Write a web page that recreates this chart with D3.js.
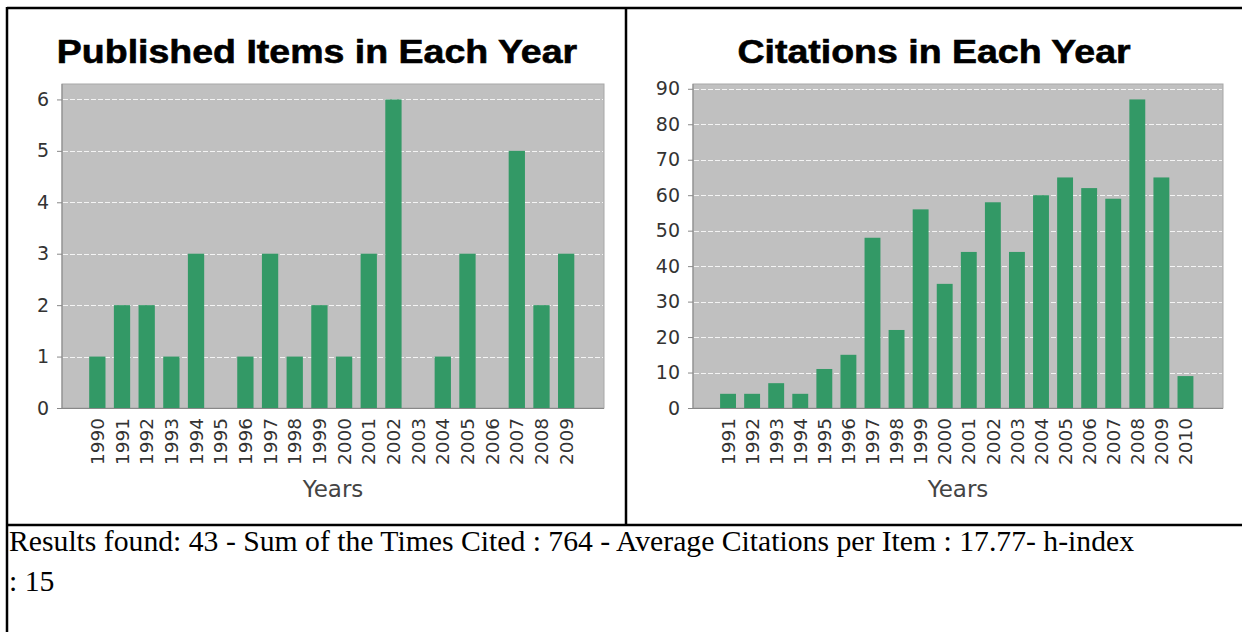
<!DOCTYPE html>
<html>
<head>
<meta charset="utf-8">
<script src="https://cdn.jsdelivr.net/npm/d3@7"></script>
<style>
  body { margin: 0; background: #fff; overflow: hidden; }
  svg { display: block; }
</style>
</head>
<body>
<script>
// published items per year (left chart)
var itemYears = ["1990","1991","1992","1993","1994","1995","1996","1997","1998","1999",
                 "2000","2001","2002","2003","2004","2005","2006","2007","2008","2009"];
var itemCounts = [1,2,2,1,3,0,1,3,1,2,1,3,6,0,1,3,0,5,2,3];
var itemTicks = [0,1,2,3,4,5,6];

// citations per year (right chart)
var citeYears = ["1991","1992","1993","1994","1995","1996","1997","1998","1999","2000",
                 "2001","2002","2003","2004","2005","2006","2007","2008","2009","2010"];
var citeCounts = [4,4,7,4,11,15,48,22,56,35,44,58,44,60,65,62,59,87,65,9];
var citeTicks = [0,10,20,30,40,50,60,70,80,90];

var summaryLines = ["Results found: 43 - Sum of the Times Cited : 764 - Average Citations per Item : 17.77- h-index",
                    ": 15"];

var width = 1242, height = 632;

var svg = d3.select("body").append("svg")
    .attr("width", width)
    .attr("height", height);

// table frame
var frame = svg.append("g")
    .attr("stroke", "#000")
    .attr("stroke-width", 2.5);
frame.append("line").attr("x1", 7).attr("x2", width + 5).attr("y1", 8).attr("y2", 8);
frame.append("line").attr("x1", 7).attr("x2", 7).attr("y1", 7).attr("y2", height + 5);
frame.append("line").attr("x1", 626).attr("x2", 626).attr("y1", 7).attr("y2", 525);
frame.append("line").attr("x1", 7).attr("x2", width + 5).attr("y1", 525).attr("y2", 525);

function drawChart(o) {
  var g = svg.append("g");

  // chart title
  g.append("text")
      .attr("transform", "translate(" + o.titleX + ",63) scale(1.12,1)")
      .attr("text-anchor", "middle")
      .style("font-family", "'Liberation Sans', Arial, sans-serif")
      .style("font-weight", "bold")
      .style("font-size", "33.5px")
      .attr("fill", "#000")
      .attr("stroke", "#000")
      .attr("stroke-width", 0.6)
      .text(o.title);

  var x = d3.scaleBand()
      .domain(o.years)
      .range([o.left + 23, o.right - 25.5])
      .paddingInner(0.34)
      .paddingOuter(0.17);

  var y = d3.scaleLinear()
      .domain([0, d3.max(o.values) * 1.05])
      .range([o.bottom, o.top]);

  // plot background
  g.append("rect")
      .attr("x", o.left)
      .attr("y", o.top)
      .attr("width", o.right - o.left)
      .attr("height", o.bottom - o.top)
      .attr("fill", "#c0c0c0")
      .attr("stroke", "#a8a8a8")
      .attr("stroke-width", 1);

  // gridlines
  g.selectAll(".grid")
      .data(o.ticks.filter(function(d){ return d > 0; }))
      .enter()
      .append("line")
      .attr("x1", o.left + 1)
      .attr("x2", o.right - 1)
      .attr("y1", function(d){ return Math.round(y(d)) + 0.5; })
      .attr("y2", function(d){ return Math.round(y(d)) + 0.5; })
      .attr("stroke", "#f4f4f4")
      .attr("stroke-width", 1)
      .attr("stroke-dasharray", "5,2");

  // bars
  g.selectAll(".bar")
      .data(o.values)
      .enter()
      .append("rect")
      .attr("x", function(d, i){ return x(o.years[i]); })
      .attr("width", x.bandwidth())
      .attr("y", function(d){ return y(d); })
      .attr("height", function(d){ return o.bottom - y(d); })
      .attr("fill", "#339966");

  // y axis
  var yAxis = d3.axisLeft(y)
      .tickValues(o.ticks)
      .tickSize(5)
      .tickPadding(8)
      .tickFormat(d3.format("d"));
  var ya = g.append("g")
      .attr("transform", "translate(" + o.left + ",0)")
      .call(yAxis);
  ya.select(".domain").attr("stroke", "#888").attr("d", "M0," + o.top + "V" + o.bottom);
  ya.selectAll(".tick line").attr("stroke", "#888");
  ya.selectAll(".tick text")
      .style("font-family", "'DejaVu Sans', Verdana, sans-serif")
      .style("font-size", "19px")
      .attr("fill", "#333");

  // x axis
  var xAxis = d3.axisBottom(x).tickSize(0).tickPadding(0);
  var xa = g.append("g")
      .attr("transform", "translate(0," + o.bottom + ")")
      .call(xAxis);
  xa.select(".domain").attr("stroke", "#888").attr("d", "M" + (o.left - 5) + ",0.5H" + o.right);
  xa.selectAll(".tick text")
      .style("font-family", "'DejaVu Sans', Verdana, sans-serif")
      .style("font-size", "18.5px")
      .attr("fill", "#333")
      .attr("text-anchor", "end")
      .attr("transform", "rotate(-90)")
      .attr("x", -10)
      .attr("y", 0)
      .attr("dy", "0.36em");

  // axis label
  g.append("text")
      .attr("x", (o.left + o.right) / 2)
      .attr("y", 497)
      .attr("text-anchor", "middle")
      .style("font-family", "'DejaVu Sans', Verdana, sans-serif")
      .style("font-size", "23px")
      .attr("fill", "#444")
      .text("Years");
}

drawChart({
  title: "Published Items in Each Year",
  titleX: 317,
  years: itemYears,
  values: itemCounts,
  ticks: itemTicks,
  left: 62, right: 604, top: 84, bottom: 408
});

drawChart({
  title: "Citations in Each Year",
  titleX: 934,
  years: citeYears,
  values: citeCounts,
  ticks: citeTicks,
  left: 693, right: 1223, top: 84, bottom: 408
});

// summary text under the charts
svg.append("g")
    .selectAll("text")
    .data(summaryLines)
    .enter()
    .append("text")
    .attr("x", 9)
    .attr("y", function(d, i){ return 551 + i * 40; })
    .style("font-family", "'Liberation Serif', 'Times New Roman', serif")
    .style("font-size", "29.7px")
    .attr("fill", "#000")
    .text(function(d){ return d; });
</script>
</body>
</html>
